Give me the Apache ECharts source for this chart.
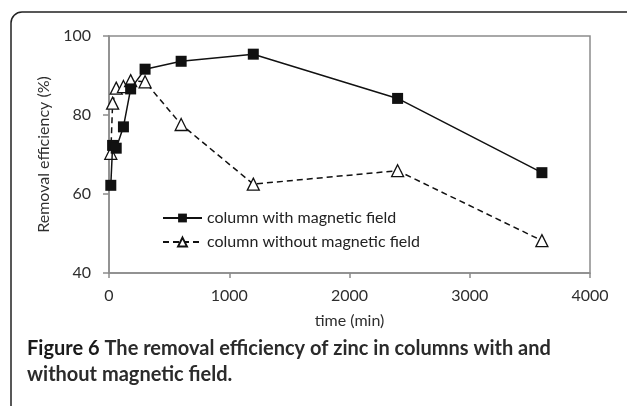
<!DOCTYPE html>
<html>
<head>
<meta charset="utf-8">
<script src="https://cdn.jsdelivr.net/npm/echarts@6/dist/echarts.min.js"></script>
<style>
  html, body { margin: 0; padding: 0; background: #fff; }
  #chart { width: 627px; height: 406px; }
</style>
</head>
<body>
<div id="chart"></div>
<script>
// time (min)
var times = [15, 30, 60, 120, 180, 300, 600, 1200, 2400, 3600]
// removal efficiency (%)
var withField = [62.2, 72.3, 71.6, 77.0, 86.6, 91.6, 93.6, 95.4, 84.2, 65.4]
var withoutField = [70.3, 83.0, 86.8, 87.2, 88.7, 88.4, 77.6, 62.5, 65.9, 48.2]
var xTicks = [0, 1000, 2000, 3000, 4000]
var yTicks = [40, 60, 80, 100]

var seriesNames = ['column with magnetic field', 'column without magnetic field']

function pairs(ys) {
  return times.map(function (t, i) { return [t, ys[i]] })
}

var myChart = echarts.init(document.getElementById('chart'))
var axisGray = '#8c8c8c'
var textColor = '#2e2e2e'
var font = 'Lato'

var option = {
  animation: false,
  title: {
    left: 27,
    top: 336,
    padding: 0,
    text: '{b|Figure 6} {m|The removal efficiency of zinc in columns with and}\n{m|without magnetic field.}',
    textStyle: {
      rich: {
        b: { fontFamily: font, fontWeight: 'bold', fontSize: 20, color: '#1a1a1a', lineHeight: 26 },
        m: { fontFamily: font, fontWeight: 'bold', fontSize: 20, color: '#2b2b2b', lineHeight: 26 }
      }
    }
  },
  graphic: [
    {
      type: 'rect',
      shape: { x: 11, y: 12, width: 700, height: 500, r: 11 },
      style: { fill: 'none', stroke: '#222', lineWidth: 1.5 },
      silent: true
    }
  ],
  grid: {
    left: 109,
    top: 36,
    right: 37,
    bottom: 133,
    show: true,
    borderColor: axisGray,
    borderWidth: 1.5
  },
  legend: {
    orient: 'vertical',
    left: 162,
    top: 210,
    padding: 0,
    itemWidth: 39,
    itemHeight: 11,
    itemGap: 8,
    textStyle: { fontFamily: font, fontSize: 16, color: '#222' },
    data: seriesNames
  },
  xAxis: {
    type: 'value',
    min: xTicks[0],
    max: xTicks[xTicks.length - 1],
    interval: 1000,
    name: 'time (min)',
    nameLocation: 'middle',
    nameGap: 40,
    nameTextStyle: { fontFamily: font, fontSize: 16, color: textColor },
    axisLine: { lineStyle: { color: axisGray, width: 1.5 } },
    axisTick: { show: true, length: 5, lineStyle: { color: axisGray, width: 1.5 } },
    axisLabel: {
      fontFamily: font, fontSize: 16, color: textColor, margin: 15,
      formatter: function (v) { return String(v) }
    },
    splitLine: { show: false }
  },
  yAxis: {
    type: 'value',
    min: yTicks[0],
    max: yTicks[yTicks.length - 1],
    interval: 20,
    name: 'Removal efficiency (%)',
    nameLocation: 'middle',
    nameGap: 56,
    nameTextStyle: { fontFamily: font, fontSize: 16, color: textColor },
    axisLine: { show: true, lineStyle: { color: axisGray, width: 1.5 } },
    axisTick: { show: true, length: 6, lineStyle: { color: axisGray, width: 1.5 } },
    axisLabel: { fontFamily: font, fontSize: 16, color: textColor, margin: 18 },
    splitLine: { show: false }
  },
  series: [
    {
      name: seriesNames[0],
      type: 'line',
      data: pairs(withField),
      symbol: 'rect',
      symbolSize: 11,
      lineStyle: { color: '#111', width: 1.5 },
      itemStyle: { color: '#111' },
      z: 3
    },
    {
      name: seriesNames[1],
      type: 'line',
      data: pairs(withoutField),
      symbol: 'triangle',
      symbolSize: 12,
      lineStyle: { color: '#111', width: 1.5, type: [6, 4] },
      itemStyle: { color: '#fff', borderColor: '#111', borderWidth: 1.3 },
      z: 2
    }
  ]
}

option && myChart.setOption(option)
</script>
</body>
</html>
